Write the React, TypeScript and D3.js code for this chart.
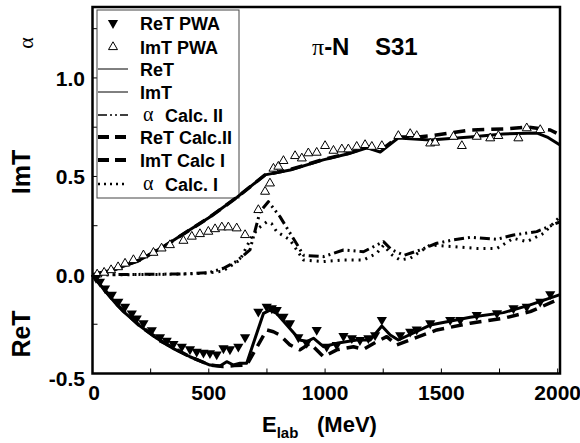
import React, { useEffect, useRef } from 'react';
import * as d3 from 'd3';

type Pt = [number, number];

// E_lab (MeV), value
const reTPwa: Pt[] = [
  [15, -0.015], [32, -0.034], [54, -0.068], [83, -0.10], [111, -0.135], [140, -0.161], [169, -0.195],
  [190, -0.22], [219, -0.245], [255, -0.28], [290, -0.316], [319, -0.333], [348, -0.35], [384, -0.364],
  [419, -0.377], [448, -0.389], [477, -0.394], [505, -0.397], [534, -0.403], [563, -0.372], [591, -0.377],
  [627, -0.364], [656, -0.316], [713, -0.186], [749, -0.161], [771, -0.169], [792, -0.178], [821, -0.212],
  [849, -0.245], [885, -0.316], [921, -0.344], [964, -0.279], [1007, -0.364], [1050, -0.355], [1079, -0.31],
  [1115, -0.321], [1150, -0.33], [1186, -0.321], [1215, -0.305], [1244, -0.228], [1323, -0.305],
  [1366, -0.288], [1394, -0.276], [1452, -0.245], [1538, -0.228], [1581, -0.228], [1652, -0.203],
  [1739, -0.194], [1810, -0.169], [1867, -0.161], [1925, -0.135], [1968, -0.097],
];

const imTPwa: Pt[] = [
  [20, 0.003], [50, 0.012], [80, 0.025], [110, 0.04], [140, 0.058], [176, 0.076], [219, 0.10], [262, 0.113],
  [297, 0.135], [333, 0.152], [391, 0.174], [427, 0.195], [462, 0.208], [498, 0.22], [527, 0.233],
  [556, 0.242], [584, 0.242], [620, 0.237], [656, 0.203], [713, 0.33], [742, 0.423], [763, 0.465],
  [778, 0.54], [799, 0.55], [821, 0.579], [871, 0.604], [900, 0.592], [928, 0.618], [964, 0.621],
  [1000, 0.655], [1036, 0.631], [1072, 0.638], [1100, 0.638], [1136, 0.651], [1172, 0.66], [1201, 0.651],
  [1244, 0.655], [1315, 0.706], [1366, 0.716], [1394, 0.706], [1452, 0.668], [1473, 0.672], [1552, 0.702],
  [1588, 0.655], [1652, 0.702], [1710, 0.694], [1745, 0.706], [1831, 0.694], [1867, 0.745], [1925, 0.736],
];

const reT: Pt[] = [
  [0, 0], [50, -0.075], [100, -0.145], [133, -0.186], [200, -0.255], [276, -0.321], [350, -0.375],
  [419, -0.415], [505, -0.457], [548, -0.462], [577, -0.44], [606, -0.457], [634, -0.448], [663, -0.448],
  [735, -0.195], [763, -0.178], [792, -0.195], [892, -0.33], [921, -0.338], [950, -0.321], [993, -0.364],
  [1050, -0.347], [1136, -0.33], [1194, -0.33], [1244, -0.259], [1280, -0.305], [1315, -0.33],
  [1452, -0.254], [1624, -0.215], [1767, -0.191], [1882, -0.152], [2010, -0.10],
];

const imT: Pt[] = [
  [0, 0], [100, 0.03], [204, 0.076], [300, 0.14], [417, 0.228], [500, 0.29], [622, 0.395], [742, 0.508],
  [850, 0.533], [992, 0.584], [1100, 0.615], [1181, 0.645], [1237, 0.624], [1314, 0.695], [1452, 0.685],
  [1624, 0.70], [1766, 0.716], [1912, 0.72], [1955, 0.70], [2010, 0.66],
];

const reTCalc2: Pt[] = [
  [0, 0], [100, -0.145], [200, -0.255], [300, -0.34], [419, -0.415], [505, -0.457], [560, -0.465],
  [610, -0.46], [663, -0.457], [749, -0.279], [778, -0.288], [806, -0.305], [849, -0.355], [892, -0.38],
  [935, -0.347], [993, -0.415], [1050, -0.38], [1122, -0.364], [1165, -0.377], [1222, -0.338],
  [1265, -0.313], [1308, -0.355], [1480, -0.279], [1624, -0.245], [1767, -0.22], [1882, -0.186],
  [1997, -0.127],
];

const imTCalc1: Pt[] = [
  [0, 0], [100, 0.03], [204, 0.076], [300, 0.14], [417, 0.228], [500, 0.29], [622, 0.395], [742, 0.508],
  [850, 0.535], [992, 0.586], [1100, 0.617], [1181, 0.648], [1237, 0.63], [1314, 0.70], [1400, 0.70],
  [1452, 0.706], [1624, 0.736], [1766, 0.741], [1869, 0.751], [1968, 0.736], [1995, 0.72],
];

const alphaCalc2: Pt[] = [
  [0, 0], [100, 0.002], [200, 0.003], [300, 0.004], [400, 0.006], [500, 0.012], [563, 0.034], [620, 0.07],
  [677, 0.127], [720, 0.32], [756, 0.372], [806, 0.296], [885, 0.144], [907, 0.10], [993, 0.093],
  [1079, 0.127], [1165, 0.118], [1251, 0.169], [1287, 0.127], [1340, 0.10], [1409, 0.127], [1480, 0.161],
  [1552, 0.178], [1624, 0.191], [1739, 0.181], [1810, 0.203], [1910, 0.22], [2010, 0.27],
];

const alphaCalc1: Pt[] = [
  [0, 0], [100, 0.001], [200, 0.002], [300, 0.003], [400, 0.005], [500, 0.01], [560, 0.02], [634, 0.076],
  [685, 0.195], [713, 0.237], [750, 0.27], [770, 0.26], [792, 0.22], [849, 0.178], [907, 0.076],
  [993, 0.068], [1079, 0.076], [1165, 0.076], [1222, 0.11], [1251, 0.15], [1290, 0.1], [1323, 0.076],
  [1366, 0.085], [1452, 0.152], [1552, 0.144], [1652, 0.135], [1739, 0.135], [1810, 0.186],
  [1867, 0.169], [1939, 0.211], [2010, 0.296],
];

const xTickLabels = [0, 500, 1000, 1500, 2000];
const yTickLabels = [-0.5, 0, 0.5, 1.0];
const xMinorTicks = [250, 500, 750, 1000, 1250, 1500, 1750, 2000];
const yMinorTicks = [-0.25, 0, 0.25, 0.5, 0.75, 1.0, 1.25];

const legendLabels = ['ReT PWA', 'ImT PWA', 'ReT', 'ImT', 'Calc. II', 'ReT Calc.II', 'ImT Calc I', 'Calc. I'];

const SANS = '"Liberation Sans", Arial, Helvetica, sans-serif';
const SERIF = '"Liberation Serif", "Times New Roman", serif';

export default function App() {
  const ref = useRef<SVGSVGElement>(null);

  useEffect(() => {
    const svg = d3.select(ref.current);
    svg.selectAll('*').remove();

    const x = d3.scaleLinear().domain([0, 2010]).range([92.5, 560]);
    const y = d3.scaleLinear().domain([-0.5, 1.36]).range([373.5, 7]);

    const line = d3.line<Pt>().x(d => x(d[0])).y(d => y(d[1]));

    // frame
    svg.append('rect')
      .attr('x', x(0)).attr('y', y(1.36))
      .attr('width', x(2010) - x(0)).attr('height', y(-0.5) - y(1.36))
      .attr('fill', 'white').attr('stroke', 'black').attr('stroke-width', 2.5);

    // minor ticks, pointing inward
    svg.append('g').selectAll('line').data(xMinorTicks).enter().append('line')
      .attr('x1', d => x(d)).attr('x2', d => x(d))
      .attr('y1', y(-0.5)).attr('y2', y(-0.5) - 5)
      .attr('stroke', 'black').attr('stroke-width', 1);
    svg.append('g').selectAll('line').data(yMinorTicks).enter().append('line')
      .attr('x1', x(0)).attr('x2', x(0) + 5)
      .attr('y1', d => y(d)).attr('y2', d => y(d))
      .attr('stroke', 'black').attr('stroke-width', 1);

    // tick labels
    svg.append('g').selectAll('text').data(xTickLabels).enter().append('text')
      .attr('x', d => x(d) + (d === 0 ? 1.5 : 0)).attr('y', 400)
      .attr('text-anchor', 'middle')
      .attr('font-family', SANS).attr('font-weight', 'bold').attr('font-size', 21)
      .text(d => String(d));
    svg.append('g').selectAll('text').data(yTickLabels).enter().append('text')
      .attr('x', 85).attr('y', d => y(d) + (d === -0.5 ? 12 : 8))
      .attr('text-anchor', 'end')
      .attr('font-family', SANS).attr('font-weight', 'bold').attr('font-size', 21)
      .text(d => d.toFixed(1));

    // axis titles
    const xt = svg.append('text').attr('x', 262).attr('y', 432)
      .attr('font-family', SANS).attr('font-weight', 'bold').attr('font-size', 22);
    xt.append('tspan').text('E');
    xt.append('tspan').attr('dy', 6).attr('font-size', 15).text('lab');
    xt.append('tspan').attr('x', 317).attr('dy', -6).text('(MeV)');

    svg.append('text').attr('transform', 'translate(30,172) rotate(-90)')
      .attr('text-anchor', 'middle')
      .attr('font-family', SANS).attr('font-weight', 'bold').attr('font-size', 25)
      .text('ImT');
    svg.append('text').attr('transform', 'translate(30,334) rotate(-90)')
      .attr('text-anchor', 'middle')
      .attr('font-family', SANS).attr('font-weight', 'bold').attr('font-size', 25)
      .text('ReT');
    svg.append('text').attr('transform', 'translate(33,43) rotate(-90)')
      .attr('text-anchor', 'middle')
      .attr('font-family', SERIF).attr('font-size', 22)
      .text('α');

    // title
    const tt = svg.append('text').attr('x', 312).attr('y', 55)
      .attr('font-family', SANS).attr('font-weight', 'bold').attr('font-size', 24);
    tt.append('tspan').attr('font-family', SERIF).attr('font-weight', 'normal').text('π');
    tt.append('tspan').text('-N');
    tt.append('tspan').attr('x', 375).text('S31');

    // legend
    const lg = svg.append('g');
    lg.append('rect').attr('x', 97).attr('y', 10).attr('width', 142).attr('height', 188)
      .attr('fill', 'white').attr('stroke', '#444').attr('stroke-width', 1);
    const rows = [23, 47, 69, 92, 115, 137, 160, 184];
    const lineStyles: { w: number; dash: string | null }[] = [
      { w: 0, dash: null }, { w: 0, dash: null },
      { w: 1, dash: null }, { w: 1, dash: null },
      { w: 1.5, dash: '9,3,2,3,2,3' },
      { w: 4, dash: '11,6' }, { w: 4, dash: '11,6' },
      { w: 2.5, dash: '2,4' },
    ];
    rows.forEach((ry, i) => {
      const st = lineStyles[i];
      if (i === 0) {
        lg.append('path').attr('d', d3.symbol(d3.symbolTriangle, 45)())
          .attr('transform', `translate(113,${ry}) rotate(180)`).attr('fill', 'black');
      } else if (i === 1) {
        lg.append('path').attr('d', d3.symbol(d3.symbolTriangle, 35)())
          .attr('transform', `translate(113,${ry})`).attr('fill', 'white').attr('stroke', 'black').attr('stroke-width', 1);
      } else {
        lg.append('line').attr('x1', 98).attr('x2', 128).attr('y1', ry).attr('y2', ry)
          .attr('stroke', 'black').attr('stroke-width', st.w)
          .attr('stroke-dasharray', st.dash);
      }
      const isAlpha = i === 4 || i === 7;
      if (isAlpha) {
        lg.append('text').attr('x', 143).attr('y', ry + 6)
          .attr('font-family', SERIF).attr('font-size', 20).text('α');
        lg.append('text').attr('x', 165).attr('y', ry + 6.5)
          .attr('font-family', SANS).attr('font-weight', 'bold').attr('font-size', 18)
          .text(legendLabels[i]);
      } else {
        lg.append('text').attr('x', 140).attr('y', ry + 6.5)
          .attr('font-family', SANS).attr('font-weight', 'bold').attr('font-size', 18)
          .text(legendLabels[i]);
      }
    });

    // curves
    const curves: { data: Pt[]; w: number; dash: string | null }[] = [
      { data: alphaCalc1, w: 3, dash: '2,5' },
      { data: alphaCalc2, w: 3, dash: '10,4,2,4,2,4' },
      { data: reTCalc2, w: 3.5, dash: '12,7' },
      { data: imTCalc1, w: 3.5, dash: '12,7' },
      { data: reT, w: 3, dash: null },
      { data: imT, w: 3, dash: null },
    ];
    curves.forEach(c => {
      svg.append('path').datum(c.data)
        .attr('d', line)
        .attr('fill', 'none').attr('stroke', 'black')
        .attr('stroke-width', c.w)
        .attr('stroke-dasharray', c.dash)
        .attr('stroke-linejoin', 'round');
    });

    // PWA points
    svg.append('g').selectAll('path').data(imTPwa).enter().append('path')
      .attr('d', d3.symbol(d3.symbolTriangle, 35)())
      .attr('transform', d => `translate(${x(d[0])},${y(d[1])})`)
      .attr('fill', 'white').attr('stroke', 'black').attr('stroke-width', 1);
    svg.append('g').selectAll('path').data(reTPwa).enter().append('path')
      .attr('d', d3.symbol(d3.symbolTriangle, 45)())
      .attr('transform', d => `translate(${x(d[0])},${y(d[1])}) rotate(180)`)
      .attr('fill', 'black');
  }, []);

  return (
    <svg ref={ref} width={580} height={443}
      style={{ position: 'absolute', left: 0, top: 0, background: 'white' }} />
  );
}
